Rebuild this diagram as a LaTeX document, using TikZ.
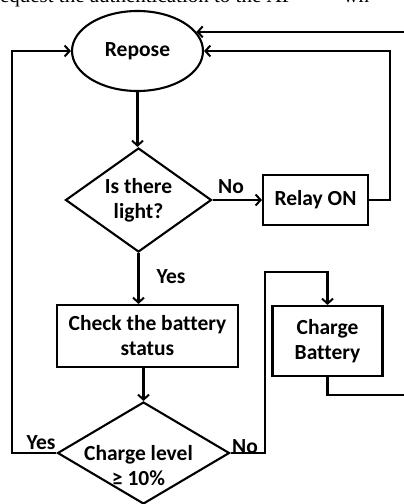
\documentclass[tikz,border=0pt]{standalone}
\usepackage{fontspec}
\setmainfont{Carlito}[Ligatures=NoCommon]
\newfontfamily\serifface{Liberation Serif}
\usetikzlibrary{shapes.geometric,arrows.meta}
\begin{document}
\begin{tikzpicture}[x=1pt,y=-1pt,
  font=\fontsize{21.5}{25}\selectfont\bfseries,
  line width=2.1pt,
  arr/.style={-{Straight Barb[length=5pt,width=11pt,line width=2pt]}},
  proc/.style={draw,rectangle,align=center,inner sep=0pt},
  dec/.style={draw,diamond,align=center,inner sep=0pt},
  lab/.style={anchor=base,inner sep=0pt}]
\useasboundingbox (0,0) rectangle (404,504);
\node[anchor=base west,font=\serifface\fontsize{21}{24}\selectfont,inner sep=0pt] (topline) at (-8,2.5) {request the authentication to the AP\hspace{50pt}wh};
\node[draw,ellipse,minimum width=131pt,minimum height=80pt,inner sep=0pt] (rep) at (137.5,51) {Repose};
\node[dec,minimum width=146pt,minimum height=104pt,aspect=1.4] (d1) at (138.5,200) {Is there\\light?};
\node[proc,minimum width=105pt,minimum height=50pt] (relay) at (315.5,200) {Relay ON};
\node[proc,minimum width=181pt,minimum height=62pt] (chk) at (147.5,336) {Check the battery\\status};
\node[dec,minimum width=172pt,minimum height=102pt,aspect=1.69] (d2) at (143.5,453)
  {\makebox[60pt]{\kern-10pt\raisebox{-20pt}[20pt][20pt]{\begin{tabular}{@{}c@{}}Charge level\\≥ 10\%\end{tabular}}}};
\node[proc,minimum width=110pt,minimum height=70pt] (chg) at (327.5,341) {Charge\\Battery};
\node[lab] (no1) at (231,193) {No};
\node[lab] (yes1) at (171,283) {Yes};
\node[lab] (yes2) at (41,449) {Yes};
\node[lab] (no2) at (245,453) {No};
\coordinate (e1) at (404,32);
\coordinate (e2) at (404,395);
\coordinate (lx) at (12,0);
\coordinate (rx) at (390,0);
\coordinate (nx) at (265,272);
\draw[arr] (rep.south) -- (rep.south |- d1.north);
\draw[arr] (d1.east) -- (relay.west);
\draw[arr] (relay.east) -- (relay.east -| rx) -- (rep.east -| rx) -- (rep.east);
\draw[arr] (rep.18 -| e1) -- (rep.18);
\draw[arr] (d1.south) -- (d1.south |- chk.north);
\draw[arr] (chk.south -| d2.north) -- (d2.north);
\draw[arr] (d2.west) -- (d2.west -| lx) -- (rep.west -| lx) -- (rep.west);
\draw[arr] (d2.east) -- (d2.east -| nx) -- (nx) -- (nx -| chg.north) -- (chg.north);
\draw (chg.south) -- (chg.south |- e2) -- (e2);
\end{tikzpicture}
\end{document}
